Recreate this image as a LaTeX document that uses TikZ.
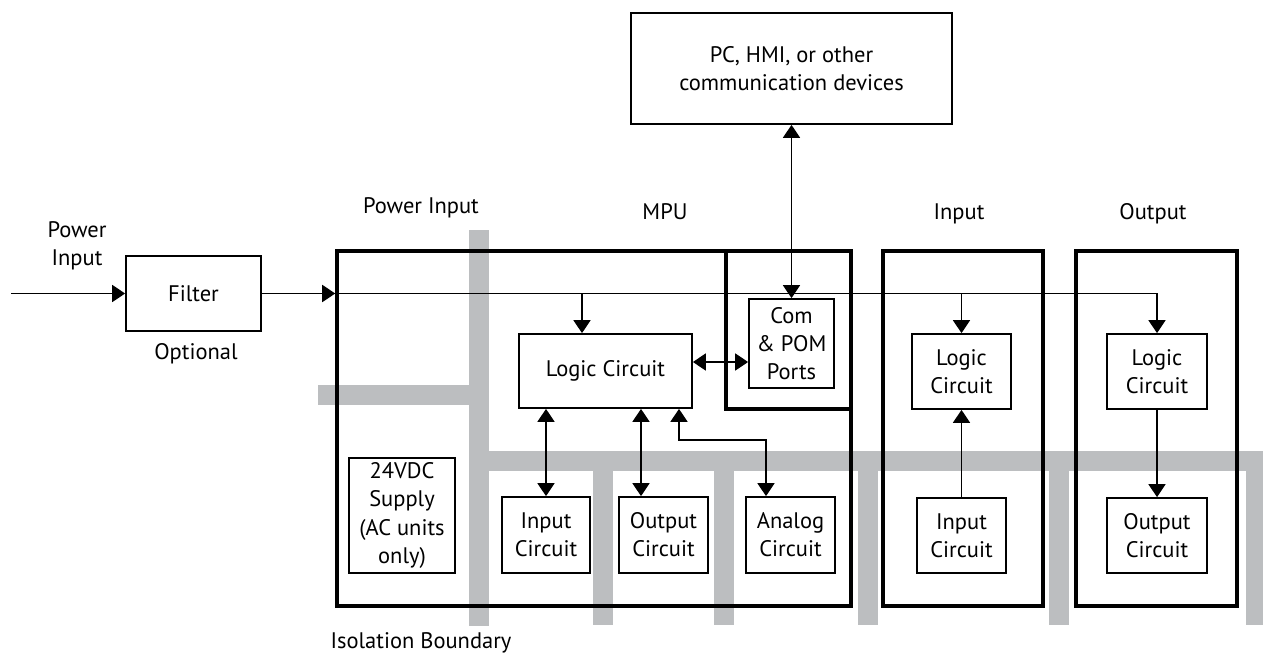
\documentclass[tikz,border=0pt]{standalone}
\usepackage{fontspec}
\setmainfont{PT Sans}
\usepackage{tikz}
\usetikzlibrary{arrows.meta,positioning,calc}
\definecolor{isogrey}{HTML}{BCBEC0}

\begin{document}
\begin{tikzpicture}[>={Triangle[length=2.6mm,width=3.4mm]},
    font=\fontsize{12.8}{16}\selectfont,
    box/.style={draw, line width=1pt, align=center, inner sep=0pt},
    module/.style={draw, line width=2pt, inner sep=0pt},
    wire/.style={line width=1pt},
    tag/.style={align=center, inner sep=0pt}]
    \useasboundingbox (0,0) rectangle (25.26,13.12);

    % Isolation boundary
    \fill[isogrey] (9.38,8.52) rectangle (9.78,0.60);
    \fill[isogrey] (6.36,5.02) rectangle (9.78,5.42);
    \fill[isogrey] (9.78,3.70) rectangle (25.26,4.10);
    \foreach \x in {11.86,14.28,17.16,20.98,24.92}
      \fill[isogrey] (\x,3.70) rectangle ({min(\x+0.4,25.26)},0.62);

    % Outside
    \node[box, minimum width=6.42cm, minimum height=2.22cm] (pc) at (15.83,11.75) {PC, HMI, or other\\communication devices};
    \node[box, minimum width=2.7cm, minimum height=1.5cm] (filter) at (3.87,7.25) {Filter};
    \node[tag] (pwrin) at (1.54,8.2) {Power\\Input};
    \node[tag, anchor=base] (optional) at (3.92,5.94) {Optional};

    % MPU
    \node[module, minimum width=10.28cm, minimum height=7.1cm] (mpu) at (11.88,4.55) {};
    \node[module, minimum width=2.5cm, minimum height=3.16cm] (com) at (15.77,6.52) {};
    \node[box, minimum width=1.7cm, minimum height=1.78cm] (ports) at (15.83,6.25) {Com\\\& POM\\Ports};
    \node[box, minimum width=3.46cm, minimum height=1.48cm] (mlogic) at (12.11,5.70) {Logic Circuit};
    \node[box, minimum width=2.12cm, minimum height=2.3cm] (supply) at (8.04,2.81) {24VDC\\Supply\\(AC units\\only)};
    \node[box, minimum width=1.76cm, minimum height=1.52cm] (min) at (10.92,2.42) {Input\\Circuit};
    \node[box, minimum width=1.78cm, minimum height=1.52cm] (mout) at (13.27,2.42) {Output\\Circuit};
    \node[box, minimum width=1.78cm, minimum height=1.52cm] (manalog) at (15.81,2.42) {Analog\\Circuit};

    % Input and output modules
    \node[module, minimum width=3.2cm, minimum height=7.1cm] (inmod) at (19.26,4.55) {};
    \node[box, minimum width=1.98cm, minimum height=1.5cm] (ilogic) at (19.23,5.69) {Logic\\Circuit};
    \node[box, minimum width=1.78cm, minimum height=1.5cm] (icirc) at (19.23,2.41) {Input\\Circuit};
    \node[module, minimum width=3.22cm, minimum height=7.1cm] (outmod) at (23.13,4.55) {};
    \node[box, minimum width=2.0cm, minimum height=1.5cm] (ologic) at (23.14,5.69) {Logic\\Circuit};
    \node[box, minimum width=2.0cm, minimum height=1.5cm] (ocirc) at (23.14,2.41) {Output\\Circuit};

    % Labels
    \node[tag, anchor=base] (lpower) at (8.42,8.86) {Power Input};
    \node[tag, anchor=base] (lmpu) at (13.3,8.74) {MPU};
    \node[tag, anchor=base] (linput) at (19.18,8.74) {Input};
    \node[tag, anchor=base] (loutput) at (23.06,8.74) {Output};
    \node[tag, anchor=base] (liso) at (8.42,0.16) {Isolation Boundary};

    % Power distribution
    \coordinate (pin) at (0.22,7.25);
    \draw[wire,->] (pin) -- (filter);
    \draw[wire,->] (filter.east) -- (filter.east -| mpu.west);
    \draw[wire,->] (filter.east -| mpu.west) -| (ologic.north);
    \coordinate (mtap) at ($(mlogic.north)+(-0.47,0)$);
    \draw[wire,->] (mtap |- filter.east) -- (mtap);
    \draw[wire,->] (ilogic.north |- filter.east) -- (ilogic.north);

    % Communication
    \draw[wire,<->] (pc.south) -- (ports.north);
    \coordinate (lc) at ($(mlogic.east)+(0,0.18)$);
    \draw[wire,<->] (lc) -- (lc -| ports.west);

    % MPU circuits
    \draw[wire,<->] (mlogic.south -| min.north) -- (min.north);
    \coordinate (otap) at ($(mout.north)+(-0.45,0)$);
    \draw[wire,<->] (otap |- mlogic.south) -- (otap);
    \coordinate (atap) at ($(manalog.north)+(-0.49,0)$);
    \coordinate (ltap) at ($(mlogic.south)+(1.47,0)$);
    \draw[wire,<->] (ltap) -- ++(0,-0.62) -| (atap);

    % Modules
    \draw[wire,->] (icirc) -- (ilogic);
    \draw[wire,->] (ologic) -- (ocirc);
\end{tikzpicture}
\end{document}
